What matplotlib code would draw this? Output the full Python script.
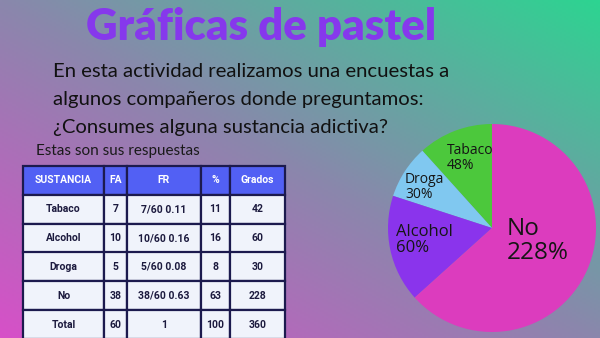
import matplotlib
matplotlib.use("Agg")
import matplotlib.pyplot as plt
import numpy as np

# Survey data
sustancias = ["Tabaco", "Alcohol", "Droga", "No", "Total"]
fa = ["7", "10", "5", "38", "60"]
fr = ["7/60 0.11", "10/60 0.16", "5/60 0.08", "38/60 0.63", "1"]
porcentaje = ["11", "16", "8", "63", "100"]
grados = ["42", "60", "30", "228", "360"]
columnas = ["SUSTANCIA", "FA", "FR", "%", "Grados"]

# Pie (counterclockwise from the top)
pie_labels = ["Tabaco", "Droga", "Alcohol", "No"]
pie_grados = [42, 30, 60, 228]
pie_texto = ["48%", "30%", "60%", "228%"]
pie_colors = ["#4cc83c", "#80c8f0", "#8a34ec", "#dc3cbe"]

W, H = 600, 338
fig = plt.figure(figsize=(6, 3.38), dpi=100)

# Background gradient (magenta bottom-left -> grey -> green top-right)
bg = fig.add_axes([0, 0, 1, 1])
xx, yy = np.meshgrid(np.linspace(0, 1, 300), np.linspace(0, 1, 169))
t = (xx + (1 - yy)) / 2
c0 = np.array([215, 80, 200]) / 255
c1 = np.array([138, 135, 172]) / 255
c2 = np.array([45, 212, 145]) / 255
t3 = t[..., None]
img = np.where(t3 < 0.5, c0 + (c1 - c0) * (t3 / 0.5), c1 + (c2 - c1) * ((t3 - 0.5) / 0.5))
bg.imshow(img, extent=[0, W, H, 0], aspect="auto")
bg.set_xlim(0, W)
bg.set_ylim(H, 0)
bg.axis("off")

# Title
bg.text(261, 40, "Gráficas de pastel", ha="center", va="baseline",
        fontsize=31.5, fontweight="heavy", family="Lato", color="#8638ec")

# Body text
lineas = ["En esta actividad realizamos una encuestas a",
          "algunos compañeros donde preguntamos:",
          "¿Consumes alguna sustancia adictiva?"]
for i, linea in enumerate(lineas):
    bg.text(53, 77 + 28 * i, linea, ha="left", va="baseline",
            fontsize=14.6, family="Lato", color="#111111")

bg.text(36, 155, "Estas son sus respuestas", ha="left", va="baseline",
        fontsize=11, family="Lato", color="#1a1a1a")

# Table
cell_text = [list(r) for r in zip(sustancias, fa, fr, porcentaje, grados)]
col_w = [81, 23, 74, 29, 55]
tbl = bg.table(cellText=cell_text, colLabels=columnas, cellLoc="center",
               colWidths=[w / sum(col_w) for w in col_w],
               bbox=[23 / W, -1 / H, 262 / W, 173 / H])
tbl.auto_set_font_size(False)
tbl.set_fontsize(7.5)
for (r, c), cell in tbl.get_celld().items():
    cell.set_edgecolor("#1c1a4e")
    cell.set_linewidth(1.6)
    if r == 0:
        cell.set_facecolor("#5260f4")
        cell.set_text_props(color="white", fontweight="bold", family="Roboto")
    else:
        cell.set_facecolor("#f0f3fb")
        cell.set_text_props(color="#1c1a3e", fontweight="bold", family="Roboto")

# Pie chart
cx, cy, rad = 492, 228, 104
pax = fig.add_axes([(cx - rad) / W, (H - cy - rad) / H, 2 * rad / W, 2 * rad / H])
pax.pie(pie_grados, colors=pie_colors, startangle=90, counterclock=True,
        wedgeprops=dict(linewidth=0))
pax.set_xlim(-1, 1)
pax.set_ylim(-1, 1)
pax.set_aspect("auto")
pax.axis("off")

label_pos = [(447, 158), (405, 187), (396, 240), (507, 241)]
label_size = [10, 10, 12, 17.5]
for lab, txt, (px, py), fs in zip(pie_labels, pie_texto, label_pos, label_size):
    pax.text((px - cx) / rad, (cy - py) / rad, lab + "\n" + txt,
             ha="left", va="center", multialignment="left", linespacing=1.05,
             fontsize=fs, family="Open Sans", color="#151515")

fig.savefig("out.png", dpi=100)
